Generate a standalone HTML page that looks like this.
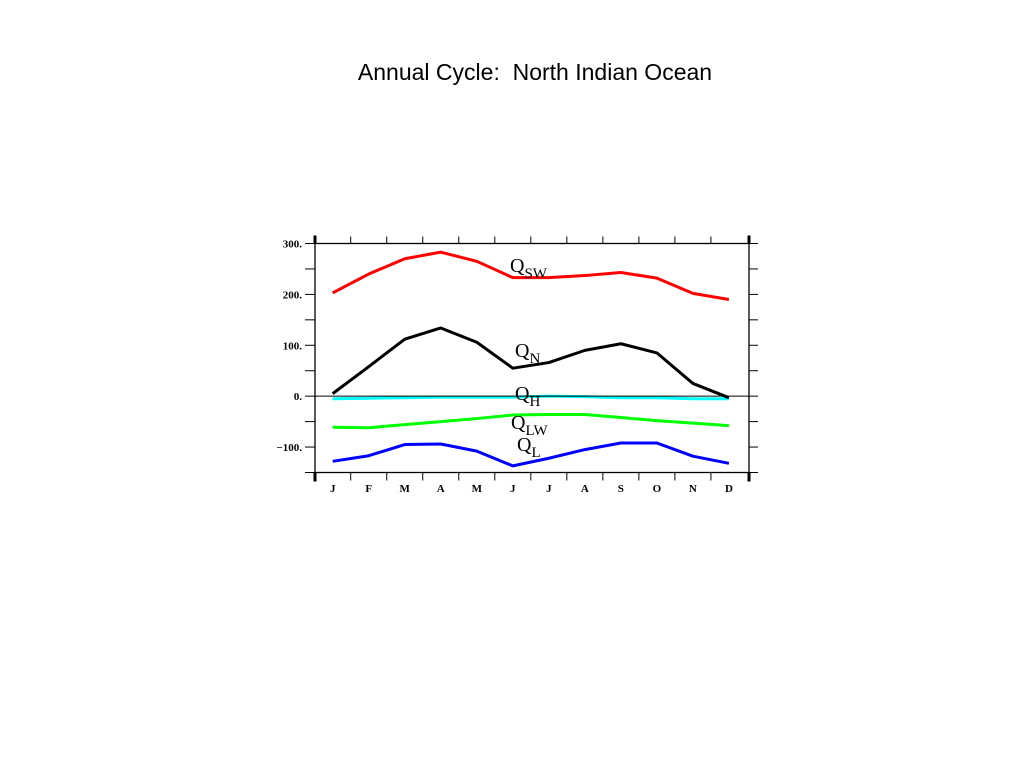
<!DOCTYPE html>
<html><head><meta charset="utf-8"><style>
body{margin:0;background:#fff;width:1023px;height:767px;overflow:hidden}
svg text{font-family:"Liberation Serif",serif}
</style></head><body>
<svg width="1023" height="767" id="c">
<text x="535" y="80" text-anchor="middle" xml:space="preserve" style="font-family:'Liberation Sans',sans-serif;font-size:23px;white-space:pre">Annual Cycle:  North Indian Ocean</text>
</svg>
<script>
const months=["J","F","M","A","M","J","J","A","S","O","N","D"];
const qsw=[203,240,270,283,265,233,233,237,243,232,202,190];
const qn=[5,58,112,134,106,55,66,90,103,85,25,-3];
const qh=[-5,-4,-3,-2,-2,-2,0,-1,-3,-3,-5,-5];
const qlw=[-61,-62,-56,-50,-44,-37,-36,-36,-42,-48,-53,-58];
const ql=[-128,-117,-95,-94,-108,-137,-122,-105,-92,-92,-118,-132];
const yTicks=[300,200,100,0,-100];
const yTickLabels=["300.","200.","100.","0.","\u2212100."];
const L=315,R=749,T=243.5,B=472.5,ymin=-150,ymax=300;
const X=i=>332.7+i*36.02;
const Y=v=>B-(v-ymin)/(ymax-ymin)*(B-T);
const s=document.getElementById('c');const NS="http://www.w3.org/2000/svg";
function mk(t,a){const e=document.createElementNS(NS,t);for(const k in a)e.setAttribute(k,a[k]);s.appendChild(e);return e;}
let e=mk('rect',{x:L,y:T,width:R-L,height:B-T,fill:'none',stroke:'#000','stroke-width':1.3});


[[L,T-8,L,T],[R,T-8,R,T],[L,B,L,B+9],[R,B,R,B+9]].forEach(p=>{const c=mk('line',{x1:p[0],y1:p[1],x2:p[2],y2:p[3],stroke:'#000','stroke-width':3});

});
for(let i=0;i<11;i++){const x=(X(i)+X(i+1))/2;
let t=mk('line',{x1:x,y1:T-7,x2:x,y2:T,stroke:'#000','stroke-width':1});


t=mk('line',{x1:x,y1:B,x2:x,y2:B+8,stroke:'#000','stroke-width':1});

}
months.forEach((m,i)=>{const t=mk('text',{x:X(i),y:492,'text-anchor':'middle','font-size':11,'font-weight':'bold'});t.textContent=m;

});
for(let v=-150;v<=300;v+=50){const y=Y(v);
let t=mk('line',{x1:L-10,y1:y,x2:L,y2:y,stroke:'#000','stroke-width':1});


t=mk('line',{x1:R,y1:y,x2:R+9,y2:y,stroke:'#000','stroke-width':1});

}
yTicks.forEach((v,i)=>{const t=mk('text',{x:302,y:Y(v)+4,'text-anchor':'end','font-size':11,'font-weight':'bold'});t.textContent=yTickLabels[i];

});
function series(d,col,name){const p=mk('polyline',{points:d.map((v,i)=>X(i)+','+Y(v)).join(' '),fill:'none',stroke:col,'stroke-width':3,'stroke-linejoin':'round'});

}
series(qh,'#00ffff','series-qh');
let z=mk('line',{x1:L,y1:Y(0),x2:R,y2:Y(0),stroke:'#000','stroke-width':1});


series(qsw,'#ff0000','series-qsw');
series(qn,'#000000','series-qn');
series(qlw,'#00ff00','series-qlw');
series(ql,'#0000ff','series-ql');
function lab(x,y,sub,name){const t=mk('text',{x:x,y:y,'font-size':20});t.innerHTML='Q<tspan dy="6" font-size="15">'+sub+'</tspan>';

}
lab(510,272,'SW','label-qsw');lab(515,357,'N','label-qn');lab(515,400,'H','label-qh');lab(511,429,'LW','label-qlw');lab(517,451,'L','label-ql');
</script>
</body></html>
